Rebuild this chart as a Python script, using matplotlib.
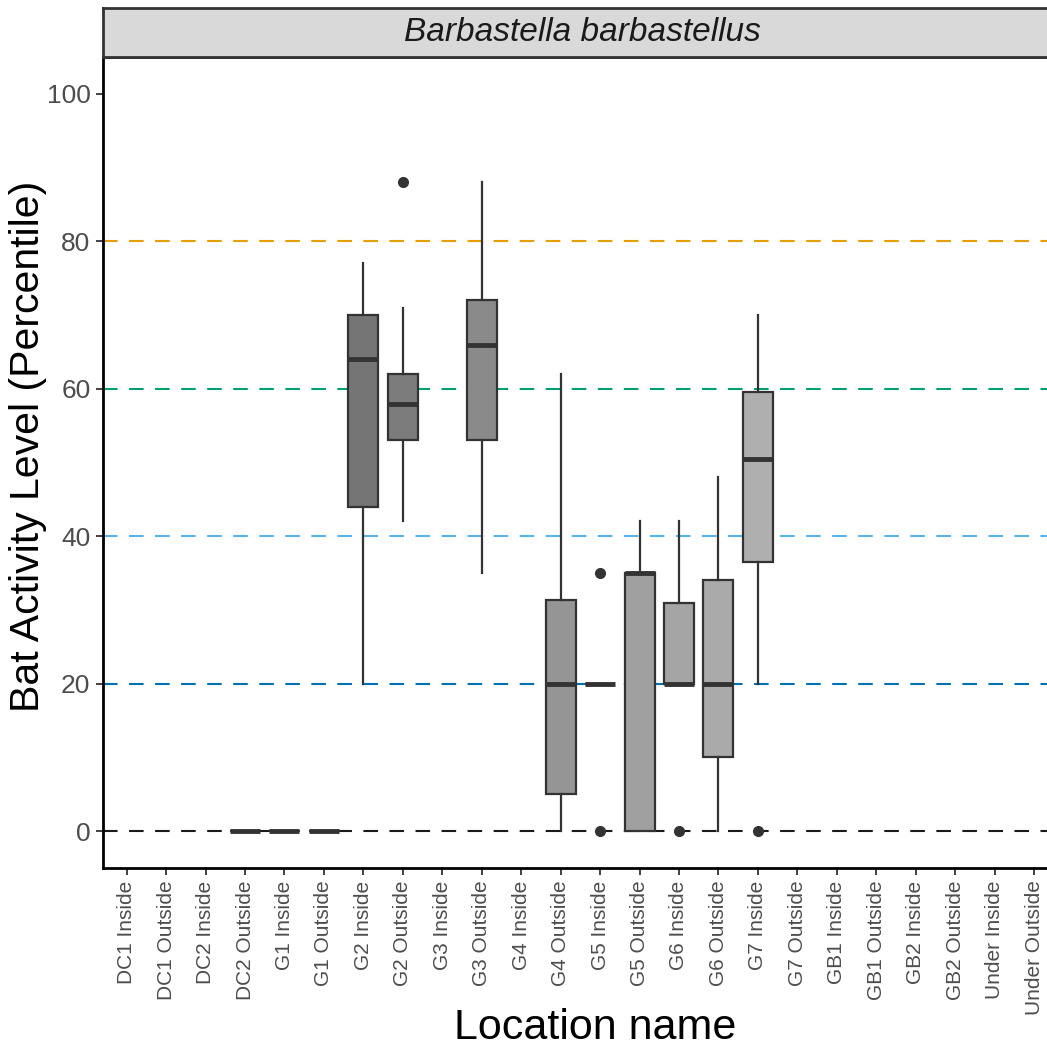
import numpy as np
import matplotlib
matplotlib.use("Agg")
import matplotlib.pyplot as plt

plt.rcParams['font.family'] = ['Liberation Sans', 'DejaVu Sans']

locations = ['DC1 Inside', 'DC1 Outside', 'DC2 Inside', 'DC2 Outside', 'G1 Inside', 'G1 Outside',
             'G2 Inside', 'G2 Outside', 'G3 Inside', 'G3 Outside', 'G4 Inside', 'G4 Outside',
             'G5 Inside', 'G5 Outside', 'G6 Inside', 'G6 Outside', 'G7 Inside', 'G7 Outside',
             'GB1 Inside', 'GB1 Outside', 'GB2 Inside', 'GB2 Outside', 'Under Inside', 'Under Outside']

# five-number summaries per location that has recordings
box_locs = ['DC2 Outside', 'G1 Inside', 'G1 Outside', 'G2 Inside', 'G2 Outside', 'G3 Outside',
            'G4 Outside', 'G5 Inside', 'G5 Outside', 'G6 Inside', 'G6 Outside', 'G7 Inside']
whislo = [0, 0, 0, 20, 42, 35, 0, 20, 0, 20, 0, 20]
q1 = [0, 0, 0, 44, 53, 53, 5, 20, 0, 20, 10, 36.5]
med = [0, 0, 0, 64, 58, 66, 20, 20, 35, 20, 20, 50.5]
q3 = [0, 0, 0, 70, 62, 72, 31.3, 20, 35, 31, 34, 59.5]
whishi = [0, 0, 0, 77, 71, 88, 62, 20, 42, 42, 48, 70]
fliers = [[], [], [], [], [88], [], [], [35, 0], [], [0], [], [0]]

thresholds = [0, 20, 40, 60, 80]
threshold_colors = ['#1a1a1a', '#0072B2', '#56B4E9', '#009E73', '#E69F00']

# grey fill ramp over all locations (like ggplot's scale_fill_grey)
n = len(locations)
g = (np.linspace(0.2 ** 2.2, 0.8 ** 2.2, n)) ** (1 / 2.2)
fills = {loc: (v, v, v) for loc, v in zip(locations, g)}

fig = plt.figure(figsize=(10.47, 10.57), dpi=100)
ax = fig.add_axes([103 / 1047, 189 / 1057, 954.7 / 1047, 811 / 1057])

for yv, c in zip(thresholds, threshold_colors):
    ax.axhline(yv, color=c, lw=1.5, ls=(0, (7, 5.5)), zorder=1)

stats = []
for i, loc in enumerate(box_locs):
    stats.append(dict(label=loc, whislo=whislo[i], q1=q1[i], med=med[i], q3=q3[i],
                      whishi=whishi[i], fliers=fliers[i]))
positions = [locations.index(loc) for loc in box_locs]
edge = '#333333'
bp = ax.bxp(stats, positions=positions, widths=0.76, patch_artist=True, showcaps=False,
            boxprops=dict(edgecolor=edge, linewidth=1.6),
            whiskerprops=dict(color=edge, linewidth=1.6),
            medianprops=dict(color=edge, linewidth=3.5, solid_capstyle='butt'),
            flierprops=dict(marker='o', markerfacecolor=edge, markeredgecolor=edge, markersize=7))
for patch, loc in zip(bp['boxes'], box_locs):
    patch.set_facecolor(fills[loc])
for art in bp['boxes'] + bp['whiskers'] + bp['medians'] + bp['fliers']:
    art.set_zorder(3)
for m in bp['medians']:
    m.set_zorder(4)

ax.set_xlim(-0.6, n - 0.4)
ax.set_ylim(-5, 105)
ax.set_xticks(range(n))
ax.set_xticklabels(locations, rotation=90, fontsize=15, color='#4d4d4d')
ax.set_yticks([0, 20, 40, 60, 80, 100])
ax.set_yticklabels(['0', '20', '40', '60', '80', '100'], fontsize=19, color='#4d4d4d')
ax.tick_params(axis='both', length=5, width=1.3, color='#333333', pad=4)
for tick, c in zip(ax.yaxis.get_major_ticks()[:5], ['#333333', '#0072B2', '#56B4E9', '#009E73', '#E69F00']):
    tick.tick1line.set_color(c)

for s in ax.spines.values():
    s.set_linewidth(2)
    s.set_color('black')

ax.set_xlabel('Location name', fontsize=31)
ax.xaxis.set_label_coords((595 - 103) / 954.7, -140 / 811)
ax.set_ylabel('Bat Activity Level (Percentile)', fontsize=29.5)
ax.yaxis.set_label_coords(-56 / 954.7, (868 - 446) / 811)

# facet strip
strip = fig.add_axes([103 / 1047, 1000 / 1057, 954.7 / 1047, 49 / 1057])
strip.set_xticks([])
strip.set_yticks([])
strip.set_facecolor('#d9d9d9')
for s in strip.spines.values():
    s.set_linewidth(2)
    s.set_color('#333333')
strip.text((582 - 103) / 954.7, 0.5, 'Barbastella barbastellus', style='italic', fontsize=24,
           color='#1a1a1a', ha='center', va='center', transform=strip.transAxes)

fig.savefig('out.png', dpi=100)
